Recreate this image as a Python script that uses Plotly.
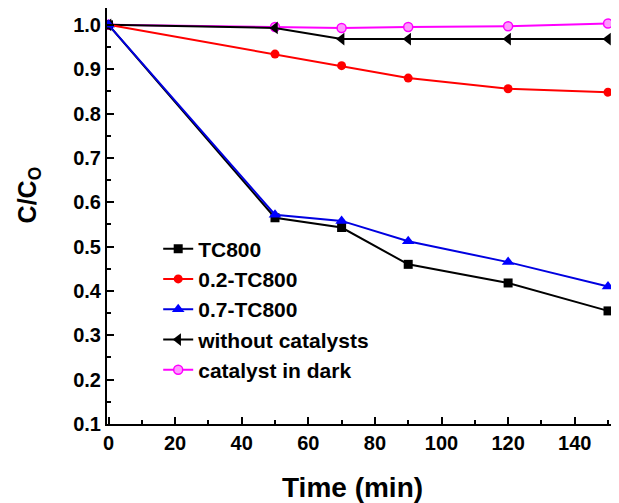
import plotly.graph_objects as go

time_tc800 = [0, 50, 70, 90, 120, 150]
tc800 = [1.0, 0.565, 0.543, 0.460, 0.418, 0.355]

time_02 = [0, 50, 70, 90, 120, 150]
tc800_02 = [1.0, 0.934, 0.908, 0.880, 0.856, 0.848]

time_07 = [0, 50, 70, 90, 120, 150]
tc800_07 = [1.0, 0.572, 0.558, 0.512, 0.465, 0.410]

time_nocat = [0, 50, 70, 90, 120, 150]
no_catalyst = [1.0, 0.993, 0.968, 0.968, 0.968, 0.968]

time_dark = [0, 50, 70, 90, 120, 150]
dark = [1.0, 0.995, 0.993, 0.995, 0.997, 1.003]

x_ticks = [0, 20, 40, 60, 80, 100, 120, 140]
y_ticks = [0.1, 0.2, 0.3, 0.4, 0.5, 0.6, 0.7, 0.8, 0.9, 1.0]

FONT = "Liberation Sans"

fig = go.Figure()
fig.add_trace(go.Scatter(x=time_dark, y=dark, name="catalyst in dark", mode="lines+markers",
                         line=dict(color="#FF00FF", width=2),
                         marker=dict(symbol="circle", size=9, color="#FF99FF",
                                     line=dict(color="#FF00FF", width=1.5)),
                         legendrank=5))
fig.add_trace(go.Scatter(x=time_nocat, y=no_catalyst, name="without catalysts", mode="lines+markers",
                         line=dict(color="black", width=2),
                         marker=dict(symbol="triangle-left", size=11, color="black"),
                         legendrank=4))
fig.add_trace(go.Scatter(x=time_02, y=tc800_02, name="0.2-TC800", mode="lines+markers",
                         line=dict(color="#FF0000", width=2),
                         marker=dict(symbol="circle", size=9, color="#FF0000"),
                         legendrank=2))
fig.add_trace(go.Scatter(x=time_tc800, y=tc800, name="TC800", mode="lines+markers",
                         line=dict(color="black", width=2),
                         marker=dict(symbol="square", size=9, color="black"),
                         legendrank=1))
fig.add_trace(go.Scatter(x=time_07, y=tc800_07, name="0.7-TC800", mode="lines+markers",
                         line=dict(color="#0000E0", width=2),
                         marker=dict(symbol="triangle-up", size=11, color="#0000FF"),
                         legendrank=3))

# page body has an 8px margin: the figure is drawn at (8, 8)
fig.update_layout(
    width=611, height=495,
    margin=dict(l=99, r=0, t=0, b=79, autoexpand=False),
    paper_bgcolor="white", plot_bgcolor="white",
    font=dict(family=FONT, color="black"),
    showlegend=True,
    legend=dict(x=0.1, y=0.47, xanchor="left", yanchor="top",
                bgcolor="rgba(0,0,0,0)",
                font=dict(family=FONT, size=21, color="black", weight="bold"),
                itemwidth=30),
    xaxis=dict(range=[-0.45, 153.3], tickvals=x_ticks, ticktext=[str(v) for v in x_ticks],
               showline=True, linecolor="black", linewidth=2, mirror=True,
               ticks="inside", ticklen=7, tickwidth=2, tickcolor="black",
               minor=dict(dtick=10, ticks="inside", ticklen=4, tickwidth=2, tickcolor="black"),
               showgrid=False, zeroline=False, automargin=False,
               tickfont=dict(family=FONT, size=20, weight="bold")),
    yaxis=dict(range=[0.1, 1.038], tickvals=y_ticks, ticktext=[f"{v:.1f}" for v in y_ticks],
               showline=True, linecolor="black", linewidth=2, mirror=False,
               ticks="inside", ticklen=7, tickwidth=2, tickcolor="black",
               minor=dict(dtick=0.05, tick0=0.1, ticks="inside", ticklen=4, tickwidth=2, tickcolor="black"),
               showgrid=False, zeroline=False, automargin=False,
               tickfont=dict(family=FONT, size=20, weight="bold")),
    annotations=[
        dict(text="Time (min)", xref="paper", yref="paper", x=0.479, y=-0.152,
             xanchor="center", yanchor="middle", showarrow=False,
             font=dict(family=FONT, size=28, weight="bold", color="black")),
        dict(text="C/C<sub>O</sub>", xref="paper", yref="paper", x=-0.152, y=0.55,
             xanchor="center", yanchor="middle", showarrow=False, textangle=-90,
             font=dict(family=FONT, size=25, weight="bold", color="black")),
    ],
)

fig.write_html("out.html")
